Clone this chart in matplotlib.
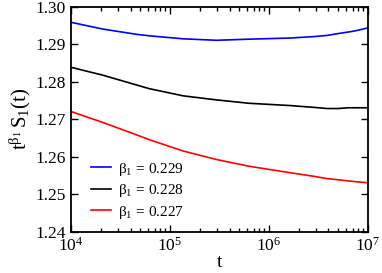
import numpy as np
from matplotlib import pyplot as plt
from matplotlib.ticker import LogLocator, NullFormatter, MultipleLocator, FormatStrFormatter

plt.rcParams['font.family'] = 'Liberation Serif'
plt.rcParams['mathtext.fontset'] = 'custom'
plt.rcParams['mathtext.rm'] = 'Liberation Serif'
plt.rcParams['mathtext.it'] = 'Liberation Serif:italic'

# log10(t) sample points
logt = [4.0, 4.32, 4.66, 4.79, 5.13, 5.47, 5.80, 6.21, 6.46, 6.59, 6.70, 6.80, 6.87, 7.0]

s_229 = [1.2958, 1.2940, 1.2926, 1.2922, 1.2914, 1.2910, 1.2913, 1.2916, 1.2920, 1.2923, 1.2928, 1.2932, 1.2935, 1.2943]
s_228 = [1.2838, 1.2817, 1.2791, 1.2781, 1.2762, 1.2751, 1.2742, 1.2736, 1.2731, 1.2728, 1.2728, 1.2730, 1.2730, 1.2730]
s_227 = [1.2720, 1.2691, 1.2658, 1.2645, 1.2615, 1.2592, 1.2574, 1.2557, 1.2547, 1.2541, 1.2538, 1.2535, 1.2533, 1.2530]

labels = ['0.229', '0.228', '0.227']
colors = ['#0000ff', 'black', '#ff0000']

t = 10 ** np.array(logt)

fig = plt.figure(figsize=(3.82, 2.73), dpi=100)
ax = fig.add_axes([0.186, 0.152, 0.777, 0.824])

for s, lab, c in zip([s_229, s_228, s_227], labels, colors):
    ax.plot(t, s, color=c, lw=1.2, label=r'$\mathrm{\beta_1\,=\,%s}$' % lab)

ax.set_xscale('log')
ax.set_xlim(1e4, 1e7)
ax.set_ylim(1.24, 1.30)
ax.yaxis.set_major_locator(MultipleLocator(0.01))
ax.yaxis.set_major_formatter(FormatStrFormatter('%.2f'))
ax.xaxis.set_minor_locator(LogLocator(base=10, subs=np.arange(2, 10)))
ax.xaxis.set_minor_formatter(NullFormatter())

ax.tick_params(which='both', direction='in', top=True, right=True, labelsize=12.5, width=1.0)
ax.tick_params(axis='x', pad=4)
ax.tick_params(which='major', length=5)
ax.tick_params(which='minor', length=3)
for sp in ax.spines.values():
    sp.set_linewidth(1.3)

ax.set_xlabel('t', fontsize=14, labelpad=-1)
ax.set_ylabel(r'$\mathrm{t^{\beta_1}\,S_1(t)}$', fontsize=15, labelpad=2)

ax.legend(loc='lower left', frameon=False, fontsize=11, handlelength=1.3,
          handletextpad=0.5, labelspacing=0.3, borderaxespad=0.3,
          bbox_to_anchor=(0.03, 0.0))

fig.savefig('out.png', dpi=100)
